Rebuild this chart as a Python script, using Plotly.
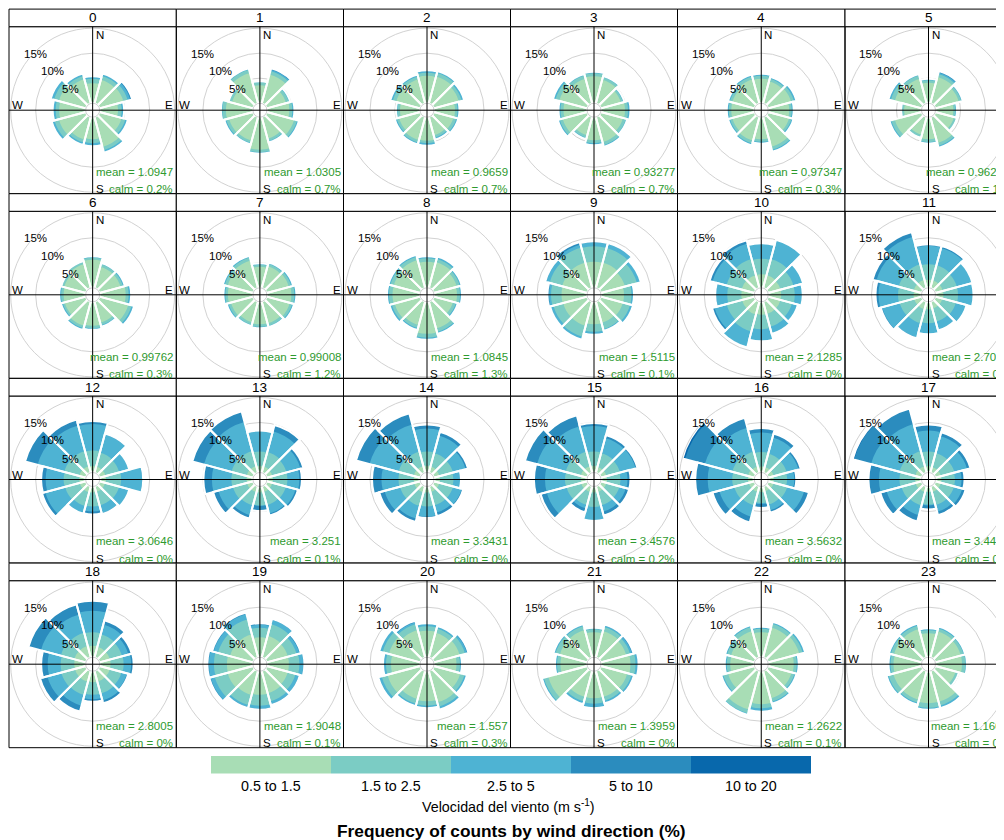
import plotly.graph_objects as go

W, H = 1004, 840
FONT = "Liberation Sans, Arial, Helvetica, sans-serif"

# ---------------- data ----------------
hour_labels = [str(h) for h in range(24)]
direction_deg = [0, 30, 60, 90, 120, 150, 180, 210, 240, 270, 300, 330]
speed_bins = ["0.5 to 1.5", "1.5 to 2.5", "2.5 to 5", "5 to 10", "10 to 20"]
bin_colors = ["#A8DDB5", "#7BCCC4", "#4EB3D3", "#2B8CBE", "#0868AC"]
mean_labels = ["1.0947", "1.0305", "0.9659", "0.93277", "0.97347", "0.96292",
               "0.99762", "0.99008", "1.0845", "1.5115", "2.1285", "2.7093",
               "3.0646", "3.251", "3.3431", "3.4576", "3.5632", "3.4402",
               "2.8005", "1.9048", "1.557", "1.3959", "1.2622", "1.1604"]
calm_labels = ["0.2%", "0.7%", "0.7%", "0.7%", "0.3%", "1%",
               "0.3%", "1.2%", "1.3%", "0.1%", "0%", "0%",
               "0%", "0.1%", "0%", "0.2%", "0%", "0%",
               "0%", "0.1%", "0.3%", "0%", "0.1%", "0%"]

# cumulative frequency (%) per direction, wind speed up to the upper end of each bin
pct_upto_1_5 = [
    [4.0, 4.9, 5.0, 3.7, 4.6, 6.2, 4.4, 4.7, 5.6, 5.3, 5.6, 5.0],
    [3.6, 6.0, 4.0, 4.5, 5.7, 4.5, 6.5, 4.9, 5.0, 5.4, 4.4, 6.3],
    [5.5, 5.6, 5.2, 4.2, 4.1, 3.8, 4.7, 4.8, 4.4, 4.0, 5.0, 5.0],
    [5.4, 4.9, 4.2, 4.8, 4.6, 5.2, 4.6, 3.8, 5.1, 4.7, 5.8, 5.1],
    [4.9, 4.6, 4.8, 4.2, 4.4, 6.2, 4.4, 4.9, 4.6, 4.6, 4.6, 5.0],
    [4.1, 5.5, 4.9, 3.6, 3.9, 5.4, 4.4, 3.7, 5.6, 3.5, 5.6, 5.1],
    [5.6, 4.4, 4.4, 5.2, 6.0, 4.4, 4.8, 5.0, 4.4, 4.4, 4.5, 5.0],
    [4.2, 4.5, 4.6, 4.9, 4.8, 4.5, 4.5, 4.3, 4.6, 5.0, 5.3, 5.7],
    [5.2, 5.4, 4.8, 4.6, 4.0, 5.6, 6.4, 4.9, 5.3, 5.5, 5.5, 5.8],
    [5.2, 5.3, 5.0, 4.6, 4.6, 4.4, 4.5, 5.0, 5.0, 5.1, 5.2, 5.3],
    [2.7, 2.7, 2.6, 2.6, 2.6, 2.6, 2.6, 2.7, 2.6, 2.6, 2.7, 2.7],
    [1.6, 1.6, 1.6, 1.6, 1.5, 1.5, 1.5, 1.6, 1.6, 1.6, 1.7, 1.7],
    [1.3, 1.3, 1.3, 1.3, 1.2, 1.2, 1.2, 1.3, 1.3, 1.3, 1.4, 1.4],
    [1.3, 1.3, 1.2, 1.2, 1.2, 1.2, 1.2, 1.2, 1.3, 1.3, 1.4, 1.4],
    [1.3, 1.3, 1.2, 1.2, 1.2, 1.2, 1.2, 1.3, 1.3, 1.3, 1.4, 1.4],
    [1.3, 1.2, 1.2, 1.2, 1.2, 1.2, 1.2, 1.2, 1.3, 1.3, 1.4, 1.4],
    [1.2, 1.2, 1.2, 1.1, 1.2, 1.1, 1.1, 1.2, 1.2, 1.3, 1.4, 1.3],
    [1.3, 1.2, 1.2, 1.2, 1.2, 1.2, 1.1, 1.2, 1.3, 1.3, 1.4, 1.4],
    [2.3, 2.2, 2.2, 2.2, 2.2, 2.2, 2.2, 2.3, 2.3, 2.3, 2.4, 2.4],
    [4.0, 4.5, 4.4, 4.4, 4.4, 4.6, 4.7, 5.0, 5.3, 5.2, 4.8, 4.8],
    [5.3, 5.1, 5.4, 4.5, 5.5, 6.5, 6.0, 5.8, 6.8, 5.8, 6.5, 5.7],
    [5.0, 5.5, 5.3, 5.9, 5.5, 5.4, 5.4, 5.4, 8.1, 5.3, 5.7, 5.7],
    [5.0, 6.2, 6.5, 5.1, 4.9, 5.7, 6.6, 8.0, 5.5, 4.8, 4.9, 5.5],
    [4.8, 5.4, 5.3, 5.3, 4.2, 6.4, 6.4, 6.0, 5.9, 5.6, 5.8, 5.9],
]
pct_upto_2_5 = [
    [4.9, 5.7, 5.9, 4.4, 5.4, 6.9, 5.2, 5.3, 6.5, 6.0, 6.6, 5.7],
    [4.2, 6.7, 4.6, 5.1, 6.3, 5.0, 7.0, 5.4, 5.6, 6.1, 4.9, 7.0],
    [6.1, 6.3, 5.8, 4.7, 4.7, 4.3, 5.2, 5.3, 4.9, 4.5, 5.7, 5.6],
    [6.0, 5.4, 4.6, 5.4, 5.2, 5.8, 5.2, 4.3, 5.7, 5.3, 6.6, 5.8],
    [5.5, 5.1, 5.4, 4.7, 4.9, 6.8, 4.9, 5.5, 5.1, 5.1, 5.1, 5.6],
    [4.6, 6.1, 5.4, 4.0, 4.3, 6.0, 5.0, 4.1, 6.3, 3.9, 6.4, 5.8],
    [6.0, 4.9, 4.9, 5.8, 6.7, 4.9, 5.3, 5.5, 4.8, 4.9, 4.9, 5.4],
    [4.6, 5.0, 5.1, 5.5, 5.3, 5.0, 5.0, 4.8, 5.1, 5.5, 5.9, 6.3],
    [5.9, 6.0, 5.4, 5.2, 4.6, 6.3, 7.2, 5.5, 5.9, 6.2, 6.2, 6.5],
    [8.3, 8.3, 7.5, 6.1, 6.1, 5.7, 6.0, 7.3, 7.0, 7.2, 7.8, 8.4],
    [5.8, 6.0, 5.3, 5.3, 5.0, 5.2, 5.5, 6.2, 5.8, 5.4, 5.8, 6.0],
    [4.7, 4.7, 4.5, 4.5, 4.3, 4.2, 4.3, 4.5, 4.6, 4.7, 4.8, 4.9],
    [4.4, 4.2, 4.1, 4.3, 4.1, 4.0, 4.0, 4.1, 4.3, 4.4, 4.5, 4.5],
    [4.2, 4.3, 4.1, 4.1, 4.0, 3.9, 3.8, 4.0, 4.2, 4.3, 4.5, 4.5],
    [4.2, 4.1, 4.0, 3.9, 4.0, 4.0, 4.0, 4.1, 4.2, 4.3, 4.5, 4.4],
    [4.2, 4.1, 4.0, 3.9, 3.9, 4.0, 4.1, 3.9, 4.3, 4.4, 4.5, 4.4],
    [4.1, 4.0, 3.9, 3.8, 4.0, 3.8, 3.3, 4.0, 4.2, 4.4, 4.6, 4.4],
    [4.2, 4.1, 4.0, 3.9, 3.9, 3.9, 3.6, 4.0, 4.2, 4.4, 4.6, 4.5],
    [5.0, 4.8, 4.7, 4.8, 4.6, 4.7, 4.7, 5.0, 5.1, 5.0, 5.2, 5.1],
    [5.9, 6.9, 6.2, 6.5, 6.0, 6.3, 6.9, 7.1, 8.0, 7.8, 7.3, 7.9],
    [6.2, 6.0, 6.5, 5.2, 6.4, 7.4, 6.9, 6.8, 8.0, 6.8, 7.8, 6.9],
    [5.6, 6.3, 6.1, 6.9, 6.4, 6.2, 6.5, 6.3, 9.0, 6.0, 6.6, 6.5],
    [5.7, 7.0, 7.2, 5.7, 5.5, 6.4, 7.4, 8.8, 6.5, 5.5, 5.7, 6.3],
    [5.4, 6.0, 5.9, 6.0, 4.7, 7.2, 7.3, 6.6, 6.9, 6.2, 6.4, 6.6],
]
pct_upto_5 = [
    [5.4, 6.2, 6.4, 4.9, 5.9, 7.4, 5.8, 5.8, 7.1, 6.6, 7.3, 6.2],
    [4.4, 7.0, 4.9, 5.4, 6.6, 5.3, 7.3, 5.7, 6.0, 6.4, 5.1, 7.3],
    [6.6, 6.7, 6.3, 5.1, 5.1, 4.7, 5.7, 5.7, 5.3, 4.8, 6.2, 6.0],
    [6.3, 5.7, 4.9, 5.9, 5.5, 6.2, 5.6, 4.6, 6.1, 5.7, 7.1, 6.1],
    [5.9, 5.5, 5.9, 5.1, 5.3, 7.2, 5.3, 5.9, 5.5, 5.5, 5.5, 6.0],
    [4.9, 6.4, 5.7, 4.3, 4.5, 6.4, 5.3, 4.3, 6.7, 4.1, 6.9, 6.1],
    [6.3, 5.2, 5.3, 6.3, 7.2, 5.2, 5.6, 5.9, 5.2, 5.3, 5.1, 5.6],
    [4.9, 5.3, 5.5, 5.9, 5.7, 5.3, 5.3, 5.1, 5.5, 5.9, 6.3, 6.7],
    [6.3, 6.5, 5.8, 5.6, 5.0, 6.7, 7.6, 5.9, 6.4, 6.6, 6.6, 6.9],
    [9.1, 9.1, 8.2, 6.6, 6.7, 6.1, 6.5, 7.9, 7.6, 7.6, 8.5, 9.0],
    [8.8, 10.0, 7.3, 6.9, 6.2, 6.7, 7.8, 9.4, 8.3, 7.6, 8.7, 9.2],
    [8.4, 8.3, 7.6, 7.6, 6.5, 6.0, 6.4, 7.4, 8.2, 8.6, 9.4, 10.6],
    [9.7, 7.9, 6.1, 8.5, 6.1, 5.6, 5.0, 5.6, 8.4, 8.0, 10.0, 9.8],
    [8.4, 8.6, 7.0, 6.5, 6.0, 5.7, 3.9, 6.0, 7.2, 8.2, 10.2, 10.5],
    [8.8, 7.7, 6.6, 5.4, 5.8, 5.5, 6.0, 6.7, 7.4, 7.7, 10.5, 10.0],
    [9.3, 7.2, 7.2, 5.3, 5.2, 5.3, 6.9, 4.6, 8.4, 8.4, 10.4, 9.6],
    [8.0, 7.3, 6.3, 5.2, 7.5, 5.0, 3.5, 6.3, 7.3, 9.3, 10.3, 9.3],
    [8.4, 7.6, 6.6, 5.2, 5.6, 5.3, 3.8, 6.0, 7.3, 8.5, 10.5, 10.1],
    [9.3, 6.8, 6.0, 6.3, 5.7, 6.1, 5.6, 7.2, 8.0, 7.6, 9.3, 8.9],
    [6.5, 7.8, 6.8, 7.3, 6.7, 6.9, 7.5, 7.5, 8.8, 8.8, 8.2, 9.0],
    [6.8, 6.5, 6.9, 5.6, 6.9, 8.0, 7.4, 7.3, 8.6, 7.4, 8.4, 7.3],
    [5.9, 6.6, 6.5, 7.3, 6.7, 6.6, 7.4, 6.9, 9.4, 6.4, 6.9, 6.9],
    [6.1, 7.4, 7.6, 6.1, 5.9, 6.8, 8.1, 9.1, 6.9, 5.9, 6.1, 6.7],
    [5.8, 6.4, 6.2, 6.3, 4.9, 7.7, 7.7, 7.0, 7.3, 6.6, 6.8, 7.0],
]
pct_upto_10 = [
    [5.4, 6.2, 6.8, 4.9, 5.9, 7.4, 5.8, 5.8, 7.1, 6.6, 7.3, 6.2],
    [4.4, 7.3, 4.9, 5.5, 6.7, 5.3, 7.3, 5.7, 6.0, 6.4, 5.1, 7.3],
    [6.6, 6.7, 6.3, 5.1, 5.1, 4.7, 5.7, 5.7, 5.3, 4.8, 6.2, 6.0],
    [6.3, 5.7, 4.9, 5.9, 5.5, 6.2, 5.6, 4.6, 6.1, 5.7, 7.1, 6.1],
    [5.9, 5.5, 5.9, 5.1, 5.3, 7.2, 5.3, 5.9, 5.5, 5.5, 5.5, 6.0],
    [4.9, 6.7, 5.7, 4.3, 4.5, 6.4, 5.3, 4.3, 6.7, 4.1, 6.9, 6.1],
    [6.3, 5.2, 5.3, 6.3, 7.2, 5.2, 5.6, 5.9, 5.2, 5.3, 5.1, 5.6],
    [4.9, 5.3, 5.5, 5.9, 5.7, 5.3, 5.3, 5.1, 5.5, 5.9, 6.3, 6.7],
    [6.3, 6.5, 5.8, 5.6, 5.0, 6.7, 7.6, 5.9, 6.4, 6.6, 6.6, 6.9],
    [9.3, 9.3, 8.3, 6.6, 6.7, 6.1, 6.6, 7.9, 7.7, 7.9, 8.7, 9.5],
    [8.9, 10.0, 7.3, 6.9, 6.2, 6.7, 7.9, 9.5, 8.8, 7.8, 9.3, 9.9],
    [8.7, 8.7, 7.7, 7.6, 6.5, 6.0, 6.5, 7.6, 8.5, 9.2, 10.2, 11.6],
    [10.3, 8.1, 6.2, 8.7, 6.2, 5.8, 5.6, 5.7, 9.1, 8.9, 12.6, 11.0],
    [8.4, 9.9, 7.6, 7.0, 6.5, 6.1, 4.9, 6.7, 8.3, 9.9, 12.6, 12.7],
    [9.6, 8.5, 7.1, 5.4, 6.1, 6.2, 6.3, 7.4, 8.5, 9.6, 13.3, 12.3],
    [9.9, 7.8, 7.6, 5.9, 5.9, 6.1, 6.9, 5.4, 9.7, 10.6, 12.9, 11.9],
    [8.9, 8.1, 6.8, 5.6, 8.5, 5.5, 4.3, 7.5, 8.7, 11.8, 14.4, 11.4],
    [9.6, 8.4, 7.3, 5.8, 6.3, 6.0, 4.6, 7.3, 8.6, 10.6, 14.0, 13.3],
    [11.3, 7.7, 6.7, 6.8, 6.0, 6.7, 6.1, 8.4, 9.5, 8.9, 11.9, 11.0],
    [6.8, 8.0, 7.1, 7.5, 6.9, 7.1, 7.7, 7.7, 9.1, 9.1, 8.5, 9.3],
    [6.8, 6.5, 7.2, 5.6, 6.9, 8.0, 7.4, 7.3, 8.7, 7.4, 8.5, 7.6],
    [5.9, 6.8, 6.8, 7.5, 6.9, 6.7, 7.4, 6.9, 9.4, 6.4, 7.0, 6.9],
    [6.1, 7.4, 7.7, 6.1, 5.9, 6.8, 8.1, 9.1, 6.9, 5.9, 6.1, 6.7],
    [5.8, 6.4, 6.2, 6.3, 4.9, 7.7, 7.7, 7.0, 7.3, 6.6, 6.8, 7.0],
]
pct_upto_20 = [
    [5.4, 6.2, 6.8, 4.9, 5.9, 7.4, 5.8, 5.8, 7.1, 6.6, 7.3, 6.2],
    [4.4, 7.3, 4.9, 5.5, 6.7, 5.3, 7.3, 5.7, 6.0, 6.4, 5.1, 7.3],
    [6.6, 6.7, 6.3, 5.1, 5.1, 4.7, 5.7, 5.7, 5.3, 4.8, 6.2, 6.0],
    [6.3, 5.7, 4.9, 5.9, 5.5, 6.2, 5.6, 4.6, 6.1, 5.7, 7.1, 6.1],
    [5.9, 5.5, 5.9, 5.1, 5.3, 7.2, 5.3, 5.9, 5.5, 5.5, 5.5, 6.0],
    [4.9, 6.7, 5.7, 4.3, 4.5, 6.4, 5.3, 4.3, 6.7, 4.1, 6.9, 6.1],
    [6.3, 5.2, 5.3, 6.3, 7.2, 5.2, 5.6, 5.9, 5.2, 5.3, 5.1, 5.6],
    [4.9, 5.3, 5.5, 5.9, 5.7, 5.3, 5.3, 5.1, 5.5, 5.9, 6.3, 6.7],
    [6.3, 6.5, 5.8, 5.6, 5.0, 6.7, 7.6, 5.9, 6.4, 6.6, 6.6, 6.9],
    [9.3, 9.3, 8.3, 6.6, 6.7, 6.1, 6.6, 7.9, 7.7, 7.9, 8.7, 9.5],
    [8.9, 10.0, 7.3, 6.9, 6.2, 6.7, 7.9, 9.5, 8.8, 7.8, 9.3, 9.9],
    [8.7, 8.7, 7.7, 7.6, 6.5, 6.0, 6.5, 7.6, 8.5, 9.2, 10.2, 11.6],
    [10.3, 8.1, 6.2, 8.7, 6.2, 5.8, 5.6, 5.7, 9.1, 8.9, 12.6, 11.0],
    [8.4, 9.9, 7.6, 7.0, 6.5, 6.1, 4.9, 6.7, 8.3, 9.9, 12.6, 12.7],
    [9.6, 8.5, 7.1, 5.4, 6.1, 6.2, 6.3, 7.4, 8.5, 9.6, 13.3, 12.3],
    [9.9, 7.8, 7.6, 5.9, 5.9, 6.1, 6.9, 5.4, 9.7, 10.6, 12.9, 11.9],
    [8.9, 8.1, 6.8, 5.6, 8.5, 5.5, 4.3, 7.5, 8.7, 11.8, 14.9, 11.4],
    [9.6, 8.4, 7.3, 5.8, 6.3, 6.0, 4.6, 7.3, 8.6, 10.6, 14.3, 13.3],
    [11.3, 7.7, 6.7, 6.8, 6.0, 6.7, 6.1, 8.4, 9.5, 8.9, 11.9, 11.0],
    [6.8, 8.0, 7.1, 7.5, 6.9, 7.1, 7.7, 7.7, 9.1, 9.1, 8.5, 9.3],
    [6.8, 6.5, 7.2, 5.6, 6.9, 8.0, 7.4, 7.3, 8.7, 7.4, 8.5, 7.6],
    [5.9, 6.8, 6.8, 7.5, 6.9, 6.7, 7.4, 6.9, 9.4, 6.4, 7.0, 6.9],
    [6.1, 7.4, 7.7, 6.1, 5.9, 6.8, 8.1, 9.1, 6.9, 5.9, 6.1, 6.7],
    [5.8, 6.4, 6.2, 6.3, 4.9, 7.7, 7.7, 7.0, 7.3, 6.6, 6.8, 7.0],
]
cumulative = [pct_upto_1_5, pct_upto_2_5, pct_upto_5, pct_upto_10, pct_upto_20]
grid_pct = [5, 10, 15]

# ---------------- layout geometry (page pixels) ----------------
PAGE_OFFSET = 8.0          # the page body margin in front of the figure
col_edges = [9.0, 176.3, 343.5, 510.5, 677.5, 845.0, 1012.0]
row_tops = [26.7, 211.3, 396.0, 580.7]
PANEL_H = 167.0
STRIP_H = 17.6
R_PX = 82.0
HOLE_PX = 7.0
PX_PER_PCT = 5.0
GRID_COL = "#D2D2D2"
GREEN = "#2E9A2E"


def X(px):
    return (px - PAGE_OFFSET) / W


def Y(py):
    return 1 - (py - PAGE_OFFSET) / H


fig = go.Figure()
polars = {}
shapes = []
annotations = []


def txt(text, px, py, size, xanchor="center", yanchor="middle", color="black"):
    annotations.append(dict(text=text, x=X(px), y=Y(py), xref="paper", yref="paper",
                            showarrow=False, xanchor=xanchor, yanchor=yanchor,
                            borderpad=0, font=dict(size=size, color=color, family=FONT)))


for i in range(24):
    r, c = divmod(i, 6)
    x0, x1 = col_edges[c], col_edges[c + 1]
    y0 = row_tops[r]
    y1 = y0 + PANEL_H
    cx, cy = (x0 + x1) / 2, (y0 + y1) / 2
    R = R_PX
    name = "polar" if i == 0 else f"polar{i + 1}"
    for k in range(4, -1, -1):
        fig.add_trace(go.Barpolar(
            r=cumulative[k][i], theta=direction_deg, width=[30] * 12,
            marker=dict(color=bin_colors[k], line=dict(width=0)),
            subplot=name, showlegend=False, hoverinfo="skip", name=speed_bins[k]))
    fig.add_trace(go.Barpolar(
        r=pct_upto_20[i], theta=direction_deg, width=[30] * 12,
        marker=dict(color="rgba(0,0,0,0)", line=dict(color="white", width=2)),
        subplot=name, showlegend=False, hoverinfo="skip"))
    polars[name] = dict(
        domain=dict(x=[max(0, X(cx - R)), min(1, X(cx + R))],
                    y=[max(0, Y(cy + R)), min(1, Y(cy - R))]),
        hole=HOLE_PX / R, barmode="overlay", bgcolor="rgba(0,0,0,0)",
        radialaxis=dict(range=[0, (R - HOLE_PX) / PX_PER_PCT], tickvals=grid_pct,
                        showticklabels=False, ticks="", showline=False,
                        gridcolor=GRID_COL, gridwidth=1),
        angularaxis=dict(rotation=90, direction="clockwise", showgrid=False,
                         showticklabels=False, ticks="", showline=True,
                         linecolor=GRID_COL, linewidth=1))
    # panel and strip frames
    shapes.append(dict(type="rect", xref="paper", yref="paper", x0=X(x0), x1=X(x1),
                       y0=Y(y1), y1=Y(y0), line=dict(color="black", width=1), layer="above"))
    shapes.append(dict(type="rect", xref="paper", yref="paper", x0=X(x0), x1=X(x1),
                       y0=Y(y0), y1=Y(y0 - STRIP_H), line=dict(color="black", width=1),
                       fillcolor="white", layer="above"))
    # cross hair
    shapes.append(dict(type="line", xref="paper", yref="paper", x0=X(cx), x1=X(cx),
                       y0=Y(y0), y1=Y(y1), line=dict(color="black", width=1), layer="above"))
    shapes.append(dict(type="line", xref="paper", yref="paper", x0=X(x0), x1=X(x1),
                       y0=Y(cy), y1=Y(cy), line=dict(color="black", width=1), layer="above"))
    # texts
    txt(hour_labels[i], cx, y0 - STRIP_H / 2, 13.5)
    txt("N", cx + 2, y0 + 8.3, 11.5, xanchor="left")
    txt("S", cx + 2, y1 - 4.5, 11.5, xanchor="left")
    txt("E", x1 - 2, cy - 4.8, 11.5, xanchor="right")
    txt("W", x0 + 2, cy - 4.8, 11.5, xanchor="left")
    txt("15%", cx - 57.6, cy - 56.5, 11.5)
    txt("10%", cx - 39.8, cy - 39.0, 11.5)
    txt("5%", cx - 22.3, cy - 20.7, 11.5)
    txt("mean = " + mean_labels[i], x1 - 2, y1 - 21.7, 11.5, xanchor="right", color=GREEN)
    txt("calm = " + calm_labels[i], x1 - 2, y1 - 4.5, 11.5, xanchor="right", color=GREEN)

# colour key
KEY_X0, KEY_W, KEY_Y0, KEY_Y1 = 211.0, 120.0, 756.0, 773.5
for k, lab in enumerate(speed_bins):
    shapes.append(dict(type="rect", xref="paper", yref="paper",
                       x0=X(KEY_X0 + k * KEY_W), x1=X(KEY_X0 + (k + 1) * KEY_W),
                       y0=Y(KEY_Y1), y1=Y(KEY_Y0), fillcolor=bin_colors[k],
                       line=dict(width=0), layer="above"))
    txt(lab, KEY_X0 + (k + 0.5) * KEY_W, 786, 14.3)
txt("Velocidad del viento (m s<sup>-1</sup>)", 508, 806, 14.3)
txt("<b>Frequency of counts by wind direction (%)</b>", 511, 831, 17.3)

fig.update_layout(
    width=W, height=H, margin=dict(l=0, r=0, t=0, b=0),
    paper_bgcolor="white", plot_bgcolor="white",
    font=dict(family=FONT, color="black"),
    shapes=shapes, annotations=annotations, showlegend=False,
    **polars)

fig.write_html("out.html")
